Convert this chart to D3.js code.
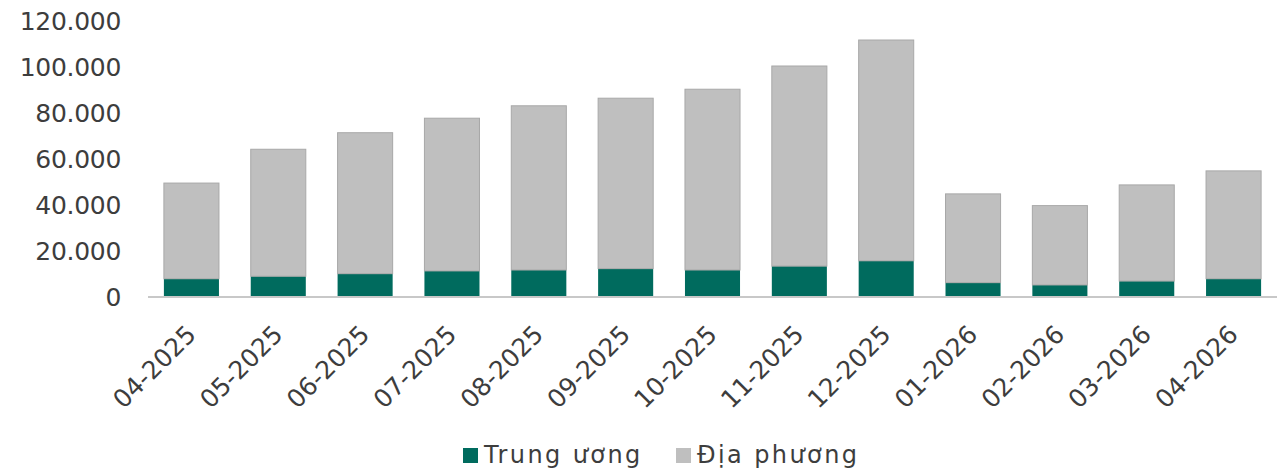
<!DOCTYPE html>
<html>
<head>
<meta charset="utf-8">
<script src="https://cdn.jsdelivr.net/npm/d3@7"></script>
<style>
  html, body { margin: 0; padding: 0; background: #fff; }
  svg text { font-family: "DejaVu Sans", sans-serif; fill: #3d3d3d; }
</style>
</head>
<body>
<svg id="chart" width="1279" height="470"></svg>
<script>
const categories = ["04-2025","05-2025","06-2025","07-2025","08-2025","09-2025","10-2025","11-2025","12-2025","01-2026","02-2026","03-2026","04-2026"];
const trungUong = [7500, 8600, 9700, 10900, 11300, 11900, 11300, 13000, 15300, 5800, 4800, 6500, 7500];
const diaPhuong = [41600, 55200, 61300, 66400, 71400, 74100, 78600, 87000, 96000, 38600, 34500, 41800, 46900];
const yTicks = [0, 20000, 40000, 60000, 80000, 100000, 120000];
const seriesNames = ["Trung ương", "Địa phương"];
const colors = ["#006b5e", "#bfbfbf"];

const svg = d3.select("#chart");

const x = d3.scaleBand().domain(categories).range([148, 1277]).paddingInner(0.366).paddingOuter(0.183);
const y = d3.scaleLinear().domain([0, 120000]).range([296, 20]);

const fmt = v => v === 0 ? "0" : d3.format(",")(v).replace(/,/g, ".");

// y axis labels
const yAxis = d3.axisLeft(y).tickValues(yTicks).tickFormat(fmt).tickSize(0).tickPadding(0);
const gy = svg.append("g").attr("transform", "translate(121,0)").call(yAxis);
gy.select(".domain").remove();
gy.selectAll("text").style("font-size", "25px").style("letter-spacing", "-0.3px")
  .attr("fill", "#3d3d3d").attr("dy", "0.36em");

// stacked data
const table = categories.map((c, i) => ({cat: c, tu: trungUong[i], dp: diaPhuong[i]}));
const stack = d3.stack().keys(["tu", "dp"])(table);

svg.append("g").selectAll("g").data(stack).join("g")
  .attr("fill", (d, i) => colors[i])
  .attr("stroke", d => d.key === "dp" ? "#a8a8a8" : "none")
  .attr("stroke-width", 1)
  .selectAll("rect").data(d => d).join("rect")
  .attr("x", d => x(d.data.cat))
  .attr("width", x.bandwidth())
  .attr("y", d => y(d[1]))
  .attr("height", d => y(d[0]) - y(d[1]));

// x axis
const xAxis = d3.axisBottom(x).tickSize(0).tickPadding(0);
const gx = svg.append("g").attr("transform", "translate(0,296)").call(xAxis);
gx.select(".domain").attr("stroke", "#c8c8c8").attr("stroke-width", 2).attr("d", "M148,1H1277");
gx.selectAll("text")
  .style("font-size", "25px")
  .attr("fill", "#3d3d3d")
  .attr("text-anchor", "end")
  .attr("dy", null)
  .attr("y", 0)
  .attr("transform", "translate(6,40) rotate(-45)");

// legend
const legend = svg.append("g");
const items = [{x: 463, name: seriesNames[0], c: colors[0]}, {x: 676, name: seriesNames[1], c: colors[1]}];
items.forEach(it => {
  legend.append("rect").attr("x", it.x).attr("y", 448).attr("width", 15).attr("height", 15).attr("fill", it.c);
  legend.append("text").attr("x", it.x + 21).attr("y", 463).style("font-size", "24px")
    .style("letter-spacing", "2.4px").text(it.name);
});
</script>
</body>
</html>
